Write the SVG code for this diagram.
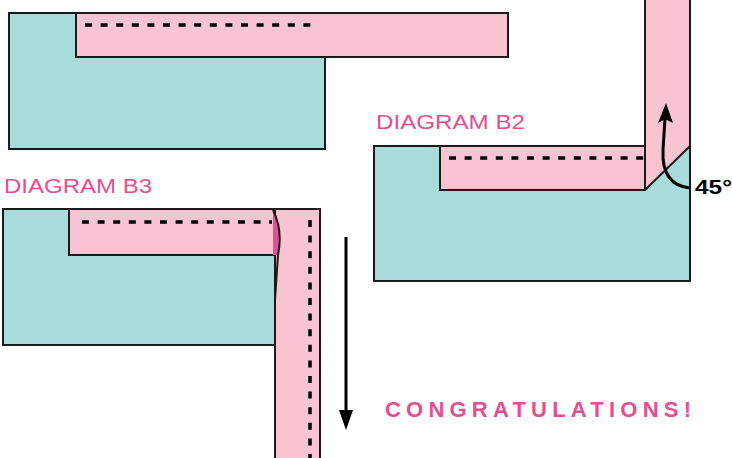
<svg xmlns="http://www.w3.org/2000/svg" width="732" height="458" viewBox="0 0 732 458">
  <style>
    .teal { fill: #A8DCD9; stroke: #1a1a1a; stroke-width: 2; }
    .pink { fill: #F8C4D2; stroke: #1a1a1a; stroke-width: 2; stroke-linejoin: miter; }
    .edge { fill: none; stroke: #1a1a1a; stroke-width: 2; }
    .dash { fill: none; stroke: #000; stroke-width: 3.5; stroke-dasharray: 7 8.6; }
    .label { font-family: "Liberation Sans", Arial, sans-serif; font-size: 20px; fill: #E2508F; }
    .congrats { font-family: "Liberation Sans", Arial, sans-serif; font-size: 22px; font-weight: bold; fill: #E2508F; }
    .deg { font-family: "Liberation Sans", Arial, sans-serif; font-size: 20px; font-weight: bold; fill: #000; }
    .arrow { fill: none; stroke: #000; stroke-width: 3; }
    .head { fill: #000; stroke: none; }
  </style>

  <g id="diagram-b1">
    <rect class="teal" x="9" y="13" width="316" height="136"/>
    <rect class="pink" x="76" y="13" width="432" height="44"/>
    <line class="dash" x1="85" y1="25" x2="316" y2="25"/>
  </g>

  <g id="diagram-b2">
    <text class="label" x="376" y="129" textLength="149" lengthAdjust="spacingAndGlyphs">DIAGRAM B2</text>
    <rect class="teal" x="374" y="146" width="316" height="135"/>
    <path class="pink" d="M440,146 L645,146 L645,-5 L690,-5 L690,146 L645,190 L440,190 Z"/>
    <line class="edge" x1="645" y1="146" x2="645" y2="190"/>
    <line class="dash" x1="449" y1="158" x2="645" y2="158"/>
    <text class="deg" x="695" y="194" textLength="37" lengthAdjust="spacingAndGlyphs">45°</text>
  </g>

  <g id="diagram-b3">
    <text class="label" x="4" y="193" textLength="148" lengthAdjust="spacingAndGlyphs">DIAGRAM B3</text>
    <rect class="teal" x="3" y="209" width="273" height="136"/>
    <rect class="pink" x="275" y="209" width="45" height="260"/>
    <rect class="pink" x="69" y="209" width="205" height="46"/>
    <path d="M273,210 C279,222 282,236 278,255 L273,255 Z" fill="#E2509A"/>
    <path class="edge" d="M273,210 C279,222 282,236 278,255 L275,300"/>
    <line class="edge" x1="3" y1="209" x2="320" y2="209"/>
    <line class="dash" x1="82" y1="222" x2="272" y2="222"/>
    <line class="dash" x1="310" y1="220" x2="310" y2="460"/>
  </g>

  <g id="connectors">
    <path class="arrow" d="M690,188 C670,186 662,172 663,150 L665,118"/>
    <path class="head" d="M666,103 L673,123 L665,119 L658,123 Z"/>
    <line class="arrow" x1="346" y1="237" x2="346" y2="414"/>
    <path class="head" d="M346,430 L339,410 L353,410 Z"/>
  </g>

  <g id="congrats">
    <text class="congrats" x="385" y="417" textLength="306" lengthAdjust="spacing">CONGRATULATIONS!</text>
  </g>
</svg>
